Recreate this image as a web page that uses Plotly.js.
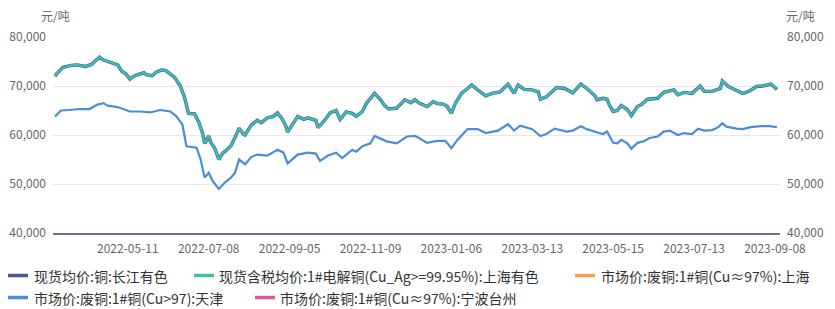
<!DOCTYPE html>
<html>
<head>
<meta charset="utf-8">
<script src="https://cdn.plot.ly/plotly-3.0.1.min.js"></script>
<style>html,body{margin:0;padding:0;background:#fff;}#chart{width:835px;height:309px;}</style>
</head>
<body>
<div id="chart"></div>
<script>
// Trading-day index (category position) and values
const tickIdx = [36, 76, 116, 156, 196, 236, 276, 316, 356];
const tickLabels = ["2022-05-11","2022-07-08","2022-09-05","2022-11-09","2023-01-06","2023-03-13","2023-05-15","2023-07-13","2023-09-08"];

const seriesNames = [
  "现货均价:铜:长江有色",
  "现货含税均价:1#电解铜(Cu_Ag>=99.95%):上海有色",
  "市场价:废铜:1#铜(Cu≈97%):上海",
  "市场价:废铜:1#铜(Cu>97):天津",
  "市场价:废铜:1#铜(Cu≈97%):宁波台州"
];

const spotIdx = [0,1,4,6,8,11,15,18,21,22,24,26,28,31,33,35,37,39,41,44,45,48,50,53,55,56,59,60,62,63,64,66,68,69,71,73,74,76,77,79,81,83,85,87,89,91,93,94,97,100,102,105,108,110,112,114,115,117,120,123,125,129,130,133,136,139,141,144,147,149,152,154,156,158,161,163,165,169,173,176,178,180,184,187,189,192,194,196,198,201,204,206,209,213,216,220,224,227,229,232,236,239,240,243,248,252,256,260,263,267,268,271,273,274,276,278,280,283,285,288,290,293,298,301,306,308,311,315,319,321,325,329,330,333,336,340,343,347,350,354,357];
const spotVal = [72000,72600,73800,74000,74200,74300,74000,74400,75400,75900,75300,75000,74800,74300,73000,72500,71400,72000,72300,72700,72300,72100,72800,73300,73100,72800,71800,71200,70000,68800,67800,64400,64300,64300,62700,60300,58300,59800,58500,57300,55000,56300,57000,57800,59500,61400,60200,60000,62000,63000,62500,63500,63800,64500,63500,62000,60600,62000,63800,63200,63500,63000,61500,62800,64500,65000,63200,64700,64400,63800,64800,66500,67500,68500,67200,66000,65300,65500,67200,66600,67200,66500,65800,66800,66400,66300,65800,64400,66500,68500,69500,70200,69200,68000,68500,68800,70400,68500,70200,69300,69200,68800,67300,67800,69700,69500,68600,70400,69500,68000,67200,67500,67300,66200,64800,65000,66000,65200,64000,65800,66200,67300,67500,68700,69200,68200,68700,68500,70000,68900,68900,69500,71000,69900,69300,68500,68900,69900,70000,70400,69300];

const tjIdx = [0,3,7,12,17,21,24,26,31,35,37,42,47,52,57,60,63,65,68,70,72,74,76,78,81,84,87,89,91,94,97,100,105,110,113,115,120,125,129,131,135,139,142,147,149,152,156,158,164,169,174,178,180,184,189,193,196,199,204,209,213,219,224,227,230,236,240,243,247,253,256,260,263,267,269,271,273,276,278,280,283,285,288,291,294,298,301,304,308,311,315,318,321,325,328,330,332,337,340,344,349,353,357];
const tjVal = [63800,65000,65100,65300,65300,66200,66500,66000,65700,65200,64800,64800,64600,65100,64800,63800,62100,57700,57500,57400,55000,51300,52300,50600,49000,50300,51300,52300,55000,54000,55500,56000,55800,57000,56400,54200,56000,56400,56200,54700,55800,56400,55300,57000,56600,57700,58300,59800,58700,58300,59700,59800,59400,58400,58800,58800,57300,59000,61200,61200,60400,60900,62200,60900,61900,61200,59800,60200,61300,60700,60900,61800,61200,60600,60400,60200,60700,58400,58300,59000,58300,57200,58400,58700,59400,59700,60700,60900,60000,60400,60200,61300,60900,61000,61600,62400,61700,61300,61200,61600,61800,61800,61600];

const shIdx = [null];  // 上海废铜: no visible data
const shVal = [null];
const nbIdx = [null];  // 宁波台州: no visible data
const nbVal = [null];

const colors = ["#4d5599", "#3bbfb1", "#f5a25a", "#4a8dd8", "#e0579c"];

const traces = [
  {x: spotIdx, y: spotVal, name: seriesNames[0], type: "scatter", mode: "lines", line: {color: colors[0], width: 3.4}},
  {x: spotIdx, y: spotVal, name: seriesNames[1], type: "scatter", mode: "lines", line: {color: colors[1], width: 2.2}},
  {x: shIdx, y: shVal, name: seriesNames[2], type: "scatter", mode: "lines", line: {color: colors[2], width: 2.2}},
  {x: tjIdx, y: tjVal, name: seriesNames[3], type: "scatter", mode: "lines", line: {color: colors[3], width: 2.2}},
  {x: nbIdx, y: nbVal, name: seriesNames[4], type: "scatter", mode: "lines", line: {color: colors[4], width: 2.2}},
  {x: [0], y: [null], yaxis: "y2", showlegend: false, hoverinfo: "skip", type: "scatter", mode: "lines"}
];

// Legend drawn as shapes + text annotations (layout in pixels)
const L = 53, W = 727, B = 233, H = 196;
const px = v => (v - L) / W;
const py = v => (B - v) / H;
const legendSlots = [
  {sx: 8, tx: 33, y: 275.5},
  {sx: 194, tx: 218, y: 275.5},
  {sx: 575, tx: 600, y: 275.5},
  {sx: 8, tx: 33, y: 297.5},
  {sx: 255, tx: 279, y: 297.5}
];
const legendShapes = legendSlots.map((s, i) => ({
  type: "line", xref: "paper", yref: "paper",
  x0: px(s.sx), x1: px(s.sx + 20), y0: py(s.y), y1: py(s.y),
  line: {color: colors[i], width: 3.5}
}));
const legendTexts = legendSlots.map((s, i) => ({
  text: seriesNames[i], xref: "paper", yref: "paper",
  x: px(s.tx - 1), y: py(s.y), xanchor: "left", yanchor: "middle",
  showarrow: false, font: {size: 14, color: "#333"}
}));

const font = "'Noto Sans CJK SC', 'Noto Sans', sans-serif";
const layout = {
  width: 835, height: 309,
  margin: {l: 53, r: 55, t: 37, b: 76},
  paper_bgcolor: "#fff", plot_bgcolor: "#fff",
  font: {family: font, size: 12, color: "#666"},
  showlegend: false,
  xaxis: {
    range: [-1, 358.5], tickmode: "array", tickvals: tickIdx, ticktext: tickLabels,
    showgrid: false, zeroline: false, showline: true, linecolor: "#6e7099", linewidth: 2,
    ticks: "", ticklabelstandoff: 4, tickfont: {size: 12, color: "#666"}
  },
  yaxis: {
    range: [40000, 80000], tickvals: [40000,50000,60000,70000,80000], tickformat: ",d",
    showgrid: true, gridcolor: "#e6e7f1", gridwidth: 1, zeroline: false, showline: false,
    ticks: "", ticklabelstandoff: 6, tickfont: {size: 12, color: "#666"}
  },
  yaxis2: {
    range: [40000, 80000], tickvals: [40000,50000,60000,70000,80000], tickformat: ",d",
    overlaying: "y", side: "right", showgrid: false, zeroline: false, showline: false,
    ticks: "", ticklabelstandoff: 6, tickfont: {size: 12, color: "#666"}
  },
  shapes: legendShapes,
  annotations: [
    {text: "元/吨", xref: "paper", yref: "paper", x: px(55), y: py(16), xanchor: "center", yanchor: "middle", showarrow: false, font: {size: 12, color: "#666"}},
    {text: "元/吨", xref: "paper", yref: "paper", x: px(800), y: py(16), xanchor: "center", yanchor: "middle", showarrow: false, font: {size: 12, color: "#666"}}
  ].concat(legendTexts)
};

Plotly.newPlot("chart", traces, layout, {displayModeBar: false, staticPlot: true});
</script>
</body>
</html>
